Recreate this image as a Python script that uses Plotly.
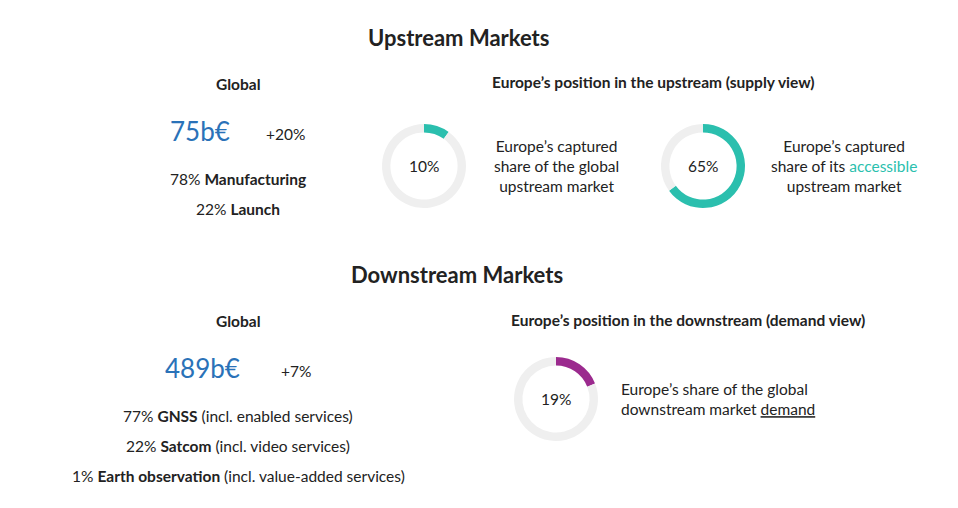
import plotly.graph_objects as go

# values
donut_shares = [10, 65, 19]
donut_colors = ["#2bbfae", "#2bbfae", "#9b2a8e"]
up_total, up_growth = "75b€", "+20%"
up_split = [(78, "Manufacturing"), (22, "Launch")]
down_total, down_growth = "489b€", "+7%"
down_split = [(77, "GNSS", " (incl. enabled services)"),
              (22, "Satcom", " (incl. video services)"),
              (1, "Earth observation", " (incl. value-added services)")]

W, H = 958, 508
OFF = 8  # page margin offset
FONT = "Lato"
fig = go.Figure()

centers = [(424, 166), (703, 166), (556, 399)]
R = 42
for share, col, (cx, cy) in zip(donut_shares, donut_colors, centers):
    cx -= OFF
    cy -= OFF
    dom = dict(x=[(cx - R) / W, (cx + R) / W], y=[1 - (cy + R) / H, 1 - (cy - R) / H])
    fig.add_trace(go.Pie(
        values=[share, 100 - share], marker=dict(colors=[col, "#efefef"]),
        hole=0.8, sort=False, direction="clockwise", rotation=0,
        textinfo="none", hoverinfo="skip", showlegend=False, domain=dom))


def txt(x, y, s, size=16, color="#222", align="center", xanchor="center"):
    fig.add_annotation(x=(x - OFF) / W, y=1 - (y - OFF) / H, xref="paper", yref="paper",
                       text=s, showarrow=False, align=align,
                       xanchor=xanchor, yanchor="middle",
                       font=dict(family=FONT, size=size, color=color))


blue = "#2a72b8"
teal = "#2bbfae"

txt(458, 37, "<b>Upstream Markets</b>", 22)
txt(238, 84, "<b>Global</b>", 15.5)
txt(200, 131, up_total, 26, blue)
txt(285, 134, up_growth, 15.5)
txt(238, 179, f"{up_split[0][0]}% <b>{up_split[0][1]}</b>", 15.5)
txt(238, 209, f"{up_split[1][0]}% <b>{up_split[1][1]}</b>", 15.5)
txt(653, 82, "<b>Europe’s position in the upstream (supply view)</b>", 15.5)
txt(424, 166, f"{donut_shares[0]}%", 15.5)
txt(556, 166, "Europe’s captured<br>share of the global<br>upstream market", 15.5)
txt(703, 166, f"{donut_shares[1]}%", 15.5)
txt(844, 166, f"Europe’s captured<br>share of its <span style='color:{teal}'>accessible</span><br>upstream market", 15.5)

txt(457, 274, "<b>Downstream Markets</b>", 22)
txt(238, 321, "<b>Global</b>", 15.5)
txt(202, 368, down_total, 26, blue)
txt(296, 371, down_growth, 15.5)
for i, (p, name, note) in enumerate(down_split):
    txt(238, 416 + 30 * i, f"{p}% <b>{name}</b>{note}", 15.5)
txt(688, 320, "<b>Europe’s position in the downstream (demand view)</b>", 15.5)
txt(556, 399, f"{donut_shares[2]}%", 15.5)
txt(619, 399, "Europe’s share of the global<br>downstream market <u>demand</u>", 15.5,
    align="left", xanchor="left")

fig.update_layout(width=W, height=H, margin=dict(l=0, r=0, t=0, b=0),
                  paper_bgcolor="white", plot_bgcolor="white",
                  font=dict(family=FONT))
fig.write_html("out.html")
